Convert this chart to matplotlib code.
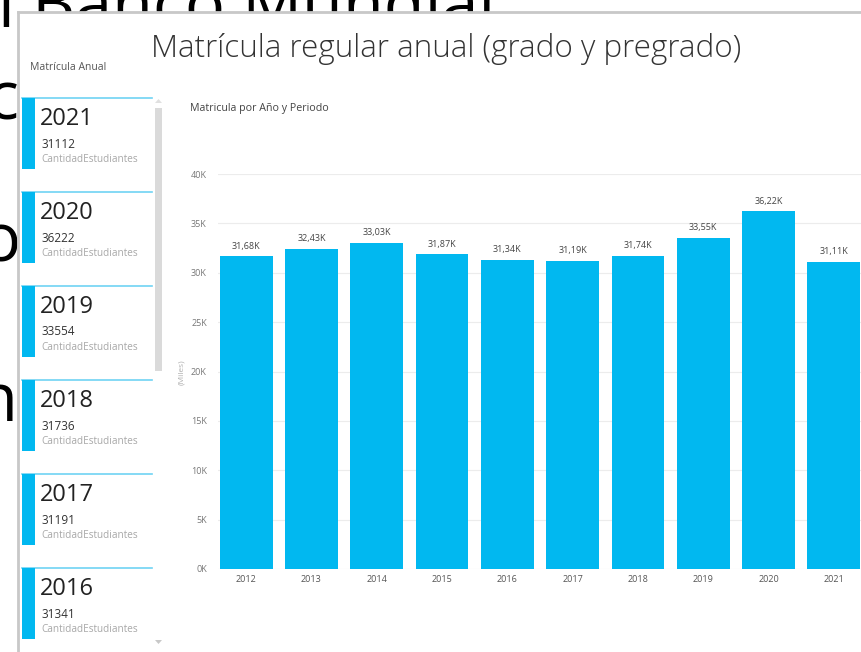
import matplotlib
matplotlib.use("Agg")
import matplotlib.pyplot as plt
from matplotlib.patches import Rectangle, Polygon
from matplotlib.lines import Line2D
from matplotlib.ticker import FuncFormatter, MultipleLocator

# ---------------- data ----------------
years = ["2012", "2013", "2014", "2015", "2016", "2017", "2018", "2019", "2020", "2021"]
students = [31680, 32430, 33030, 31870, 31341, 31191, 31736, 33554, 36222, 31112]

card_years = ["2021", "2020", "2019", "2018", "2017", "2016"]
card_values = [31112, 36222, 33554, 31736, 31191, 31341]
card_measure = "CantidadEstudiantes"

title = "Matrícula regular anual (grado y pregrado)"
slicer_title = "Matrícula Anual"
chart_title = "Matricula por Año y Periodo"
y_axis_label = "(Miles)"

# ---------------- figure ----------------
W, H = 861, 652
fig = plt.figure(figsize=(W / 100, H / 100), dpi=100)
fig.patch.set_facecolor("white")
FONT = "Open Sans"
plt.rcParams["font.family"] = [FONT, "DejaVu Sans"]


def fx(x):
    return x / W


def fy(y):
    return 1 - y / H


BLUE = "#01B8F0"

# background slide text fragments (behind the report panel)
slide_kw = dict(fontsize=48, color="black", family="Open Sans", zorder=0,
                va="baseline")
fig.text(fx(-2), fy(27), "l Banco Mundial:", ha="left", **slide_kw)
fig.text(fx(-14), fy(119), "ca", ha="left", **slide_kw)
fig.text(fx(20), fy(262), "o", ha="right", **slide_kw)
fig.text(fx(-24), fy(421), "nc", ha="left", **slide_kw)

# report panel (white, covers slide)
fig.patches.append(Rectangle((fx(18), 0), 1, fy(12), transform=fig.transFigure,
                             facecolor="white", edgecolor="none", zorder=1))
fig.lines.append(Line2D([fx(18), 1], [fy(12), fy(12)], transform=fig.transFigure,
                        color="#c8c8c8", lw=2, zorder=2))
fig.lines.append(Line2D([fx(18), fx(18)], [fy(12), 0], transform=fig.transFigure,
                        color="#c8c8c8", lw=2, zorder=2))

# title
fig.text(fx(151), fy(49), title, fontsize=22.6, fontweight="light", color="#333333",
         ha="left", va="center", zorder=3)
fig.text(fx(30), fy(68), slicer_title, fontsize=7.5, color="#555555",
         ha="left", va="center", zorder=3)

# cards
top0, step = 98, 94
for i, (yr, val) in enumerate(zip(card_years, card_values)):
    t = top0 + i * step
    fig.lines.append(Line2D([fx(22), fx(152)], [fy(t), fy(t)], transform=fig.transFigure,
                            color="#6fd3f3", lw=1.2, zorder=3))
    fig.patches.append(Rectangle((fx(22), fy(t + 71)), fx(35) - fx(22), fy(t) - fy(t + 71),
                                 transform=fig.transFigure, facecolor=BLUE,
                                 edgecolor="none", zorder=3))
    fig.text(fx(40), fy(t + 21), yr, fontsize=17, color="#222222", ha="left",
             va="center", zorder=4)
    fig.text(fx(41), fy(t + 46), str(val), fontsize=8.5, color="#333333", ha="left",
             va="center", zorder=4)
    fig.text(fx(41), fy(t + 62), card_measure, fontsize=7.2, color="#a8a8a8",
             ha="left", va="center", zorder=4)

# scrollbar
fig.patches.append(Rectangle((fx(155), fy(371)), fx(162) - fx(155), fy(108) - fy(371),
                             transform=fig.transFigure, facecolor="#dadada",
                             edgecolor="none", zorder=3))
fig.patches.append(Polygon([(fx(155), fy(103)), (fx(162), fy(103)), (fx(158.5), fy(99))],
                           closed=True, transform=fig.transFigure, facecolor="#e0e0e0",
                           edgecolor="none", zorder=3))
fig.patches.append(Polygon([(fx(155), fy(640)), (fx(162), fy(640)), (fx(158.5), fy(644))],
                           closed=True, transform=fig.transFigure, facecolor="#c8c8c8",
                           edgecolor="none", zorder=3))

# chart
fig.text(fx(190), fy(108), chart_title, fontsize=7.7, color="#444444", ha="left",
         va="center", zorder=3)
fig.text(fx(182), fy(372), y_axis_label, fontsize=6, color="#b0b0b0", ha="center",
         va="center", rotation=90, zorder=3)

ax = fig.add_axes([fx(218), fy(569), fx(862) - fx(218), fy(174) - fy(569)])
ax.set_zorder(5)
ax.patch.set_alpha(0)
x = list(range(len(years)))
ax.bar(x, students, width=0.81, color=BLUE, zorder=3)
ax.set_xlim(-0.43, 9.43)
ax.set_ylim(0, 40000)
ax.yaxis.set_major_locator(MultipleLocator(5000))
ax.yaxis.set_major_formatter(FuncFormatter(lambda v, p: f"{int(v // 1000)}K"))
ax.set_xticks(x)
ax.set_xticklabels(years)
ax.grid(axis="y", color="#ececec", lw=0.8, zorder=0)
for s in ax.spines.values():
    s.set_visible(False)
ax.tick_params(axis="y", length=0, pad=8, labelsize=6.5, labelcolor="#777777")
ax.tick_params(axis="x", length=0, pad=4, labelsize=6.5, labelcolor="#555555")
for xi, v in zip(x, students):
    ax.annotate(f"{v / 1000:.2f}K".replace(".", ","), (xi, v), xytext=(0, 4),
                textcoords="offset points", ha="center", va="bottom",
                fontsize=6.5, color="#444444")

fig.savefig("out.png", dpi=100, facecolor="white")
